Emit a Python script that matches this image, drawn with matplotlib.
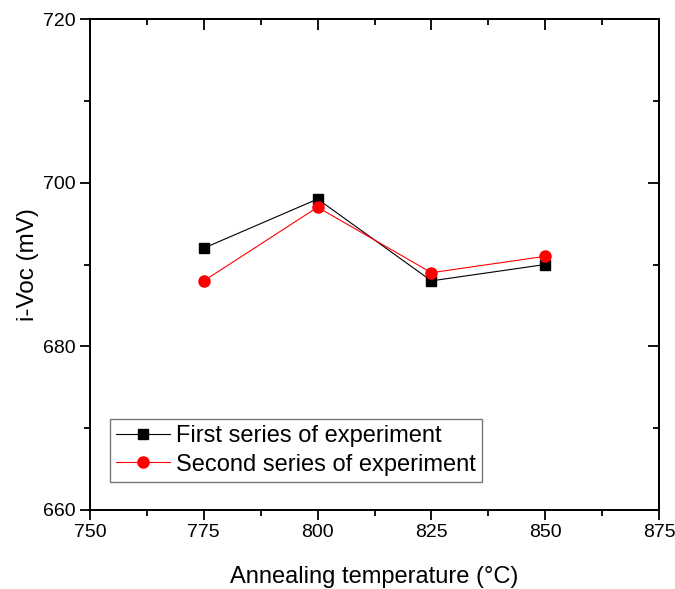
import matplotlib
matplotlib.use("Agg")
import matplotlib.pyplot as plt
from matplotlib.ticker import MultipleLocator

plt.rcParams['font.family'] = ['Liberation Sans', 'DejaVu Sans']

temps = [775, 800, 825, 850]
first_series = [692, 698, 688, 690]
second_series = [688, 697, 689, 691]
xticks = [750, 775, 800, 825, 850, 875]
yticks = [660, 680, 700, 720]

fig = plt.figure(figsize=(6.75, 5.89), dpi=100)
ax = fig.add_axes([90/675, 1-510/589, (659-90)/675, (510-19)/589])

ax.plot(temps, first_series, color='black', lw=0.8, marker='s', ms=7,
        label='First series of experiment')
ax.plot(temps, second_series, color='red', lw=0.8, marker='o', ms=8,
        label='Second series of experiment')

ax.set_xlim(750, 875)
ax.set_ylim(660, 720)
ax.set_xticks(xticks)
ax.set_yticks(yticks)
ax.xaxis.set_minor_locator(MultipleLocator(12.5))
ax.yaxis.set_minor_locator(MultipleLocator(10))
ax.tick_params(which='major', direction='out', length=7, width=1.3, labelsize=14, pad=3)
ax.tick_params(which='minor', direction='out', length=4, width=1.3)
for s in ax.spines.values():
    s.set_linewidth(1.4)

for loc in ['top', 'right']:
    if loc == 'top':
        sec = ax.secondary_xaxis('top')
        sec.set_xticks(xticks)
        sec.xaxis.set_minor_locator(MultipleLocator(12.5))
    else:
        sec = ax.secondary_yaxis('right')
        sec.set_yticks(yticks)
        sec.yaxis.set_minor_locator(MultipleLocator(10))
    sec.tick_params(which='major', direction='in', length=8, width=1.3, labelsize=0)
    sec.tick_params(which='minor', direction='in', length=4, width=1.3)
    if loc == 'top':
        sec.set_xticklabels([])
    else:
        sec.set_yticklabels([])
    for s in sec.spines.values():
        s.set_linewidth(1.4)

ax.set_xlabel('Annealing temperature (°C)', fontsize=17, labelpad=18)
ax.set_ylabel('i-Voc (mV)', fontsize=17.5, labelpad=3)

leg = ax.legend(loc='lower left', bbox_to_anchor=(0.035, 0.058), fontsize=17,
                frameon=True, fancybox=False, edgecolor='#555555', borderpad=0.25,
                handlelength=2.3, handletextpad=0.25, labelspacing=0.28,
                borderaxespad=0)
leg.get_frame().set_linewidth(1.0)

fig.savefig('out.png', dpi=100)
